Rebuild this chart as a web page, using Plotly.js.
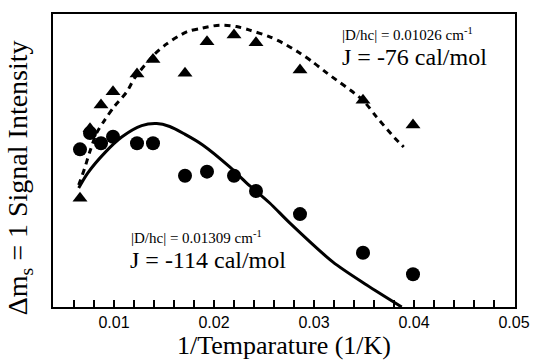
<!DOCTYPE html>
<html>
<head>
<meta charset="utf-8">
<script src="https://cdn.plot.ly/plotly-3.0.1.min.js"></script>
<style>html,body{margin:0;padding:0;background:#fff;}#chart{width:535px;height:360px;}</style>
</head>
<body>
<div id="chart"></div>
<script>
// 1/T values (1/K)
const invT = [0.0066, 0.0076, 0.0087, 0.0099, 0.0123, 0.0139, 0.0171, 0.0193, 0.0220, 0.0242, 0.0286, 0.0349, 0.0399];
// Signal intensity (arbitrary units)
const triangleY = [0.371, 0.608, 0.689, 0.735, 0.795, 0.845, 0.798, 0.905, 0.928, 0.902, 0.809, 0.706, 0.621];
const circleY   = [0.538, 0.594, 0.559, 0.581, 0.559, 0.559, 0.448, 0.462, 0.448, 0.396, 0.317, 0.185, 0.112];

// Fit curves
const fitDashX = [0.00647, 0.00707, 0.00757, 0.00827, 0.00907, 0.01007, 0.01127, 0.01207, 0.01327, 0.01407, 0.01527, 0.01727, 0.01887, 0.02057, 0.02227, 0.02357, 0.02557, 0.02687, 0.02857, 0.02987, 0.03127, 0.03487, 0.03627, 0.03807, 0.03897];
const fitDashY = [0.416, 0.474, 0.529, 0.594, 0.638, 0.686, 0.734, 0.782, 0.833, 0.863, 0.898, 0.939, 0.952, 0.962, 0.957, 0.945, 0.922, 0.901, 0.867, 0.836, 0.799, 0.706, 0.648, 0.577, 0.546];
const fitSolidX = [0.00647, 0.00737, 0.00907, 0.01077, 0.01277, 0.01427, 0.01557, 0.01707, 0.01887, 0.02157, 0.02327, 0.02557, 0.02757, 0.03187, 0.03527, 0.03877];
const fitSolidY = [0.406, 0.457, 0.526, 0.580, 0.619, 0.626, 0.616, 0.590, 0.553, 0.478, 0.423, 0.355, 0.287, 0.154, 0.075, 0.0];

const xTickVals = [0.01, 0.02, 0.03, 0.04, 0.05];
const xTickText = ['0.01', '0.02', '0.03', '0.04', '0.05'];

const serif = 'Liberation Serif, Times New Roman, serif';
const sans = 'Liberation Sans, Arial, sans-serif';

const traces = [
  {x: fitDashX, y: fitDashY, mode: 'lines', line: {color: '#000', width: 3, dash: '6px,5px', shape: 'spline', smoothing: 0.8}, hoverinfo: 'skip'},
  {x: fitSolidX, y: fitSolidY, mode: 'lines', line: {color: '#000', width: 3, shape: 'spline', smoothing: 0.8}, hoverinfo: 'skip'},
  {x: invT, y: triangleY, mode: 'markers', marker: {symbol: 'triangle-up', size: 13, color: '#000'}},
  {x: invT, y: circleY, mode: 'markers', marker: {symbol: 'circle', size: 14, color: '#000'}}
];

const layout = {
  width: 535, height: 360,
  margin: {l: 53, r: 20, t: 14, b: 53},
  showlegend: false,
  paper_bgcolor: '#fff', plot_bgcolor: '#fff',
  xaxis: {
    range: [0.0039, 0.0501],
    tickvals: xTickVals, ticktext: xTickText,
    ticks: 'inside', ticklen: 7, tickwidth: 1.5, tickcolor: '#000',
    minor: {dtick: 0.002, tick0: 0, ticks: 'inside', ticklen: 7, tickwidth: 1.5, tickcolor: '#000', showgrid: false},
    showline: true, linecolor: '#000', linewidth: 2, mirror: true,
    showgrid: false, zeroline: false,
    tickfont: {family: sans, size: 16, color: '#000'},
    title: {text: '1/Temparature (1/K)', font: {family: serif, size: 26, color: '#000'}, standoff: 0}
  },
  yaxis: {
    range: [0, 1],
    showticklabels: false, ticks: '',
    showline: true, linecolor: '#000', linewidth: 2, mirror: true,
    showgrid: false, zeroline: false
  },
  annotations: [
    {xref: 'paper', yref: 'paper', x: -0.072, y: 0.442, xanchor: 'center', yanchor: 'middle', textangle: -90, showarrow: false,
     text: 'Δm<sub>s</sub> = 1 Signal Intensity', font: {family: serif, size: 28, color: '#000'}},
    {xref: 'x', yref: 'y', x: 0.03255, y: 0.931, xanchor: 'left', yanchor: 'middle', showarrow: false,
     text: '|D/hc| = 0.01026 cm<sup>-1</sup>', font: {family: serif, size: 15, color: '#000'}},
    {xref: 'x', yref: 'y', x: 0.03255, y: 0.854, xanchor: 'left', yanchor: 'middle', showarrow: false,
     text: 'J = -76 cal/mol', font: {family: serif, size: 24, color: '#000'}},
    {xref: 'x', yref: 'y', x: 0.01145, y: 0.240, xanchor: 'left', yanchor: 'middle', showarrow: false,
     text: '|D/hc| = 0.01309 cm<sup>-1</sup>', font: {family: serif, size: 15, color: '#000'}},
    {xref: 'x', yref: 'y', x: 0.01135, y: 0.160, xanchor: 'left', yanchor: 'middle', showarrow: false,
     text: 'J = -114 cal/mol', font: {family: serif, size: 24, color: '#000'}}
  ]
};

Plotly.newPlot('chart', traces, layout, {displayModeBar: false, staticPlot: true});
</script>
</body>
</html>
